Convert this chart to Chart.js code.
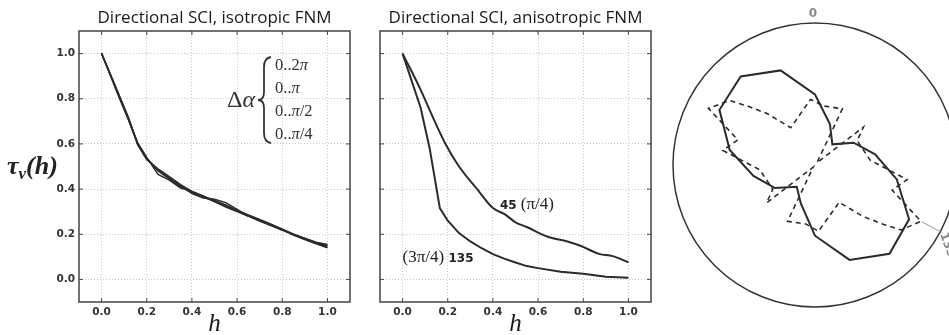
<!DOCTYPE html>
<html>
<head>
<meta charset="utf-8">
<script src="https://cdn.jsdelivr.net/npm/chart.js@4.4.1/dist/chart.umd.min.js"></script>
<style>
  html, body { margin: 0; padding: 0; background: #fff; overflow: hidden; width: 949px; height: 335px; }
  canvas { position: absolute; top: 0; }
  #iso { left: 0; }
  #aniso { left: 360px; }
  #rose { left: 655px; }
</style>
</head>
<body>
<canvas id="iso" width="360" height="335"></canvas>
<canvas id="aniso" width="300" height="335"></canvas>
<canvas id="rose" width="310" height="335"></canvas>
<script>
// tick labels
var hTicks = [0, 0.2, 0.4, 0.6, 0.8, 1.0];
var tauTicks = [0, 0.2, 0.4, 0.6, 0.8, 1.0];

// left panel: four angular tolerances, isotropic field
var hIso = [0, 0.04, 0.08, 0.12, 0.16, 0.2, 0.25, 0.3, 0.35, 0.4, 0.45, 0.5, 0.55, 0.6, 0.65, 0.7, 0.75, 0.8, 0.85, 0.9, 0.95, 1.0];
var iso2pi = [1.0, 0.905, 0.81, 0.71, 0.60, 0.535, 0.48, 0.445, 0.41, 0.385, 0.365, 0.345, 0.325, 0.305, 0.283, 0.262, 0.243, 0.222, 0.2, 0.18, 0.163, 0.145];
var isoPi = [1.0, 0.905, 0.805, 0.705, 0.605, 0.54, 0.465, 0.44, 0.405, 0.39, 0.368, 0.35, 0.33, 0.305, 0.285, 0.265, 0.245, 0.222, 0.198, 0.178, 0.16, 0.15];
var isoPi2 = [1.0, 0.905, 0.81, 0.715, 0.6, 0.535, 0.485, 0.45, 0.415, 0.38, 0.36, 0.355, 0.34, 0.31, 0.28, 0.26, 0.24, 0.22, 0.2, 0.182, 0.165, 0.155];
var isoPi4 = [1.0, 0.9, 0.8, 0.705, 0.595, 0.53, 0.49, 0.455, 0.42, 0.39, 0.37, 0.345, 0.32, 0.3, 0.28, 0.258, 0.238, 0.218, 0.196, 0.177, 0.158, 0.14];

// middle panel: two directions, anisotropic field
var h45 = [0, 0.077, 0.12, 0.155, 0.19, 0.25, 0.33, 0.4, 0.45, 0.5, 0.55, 0.64, 0.73, 0.79, 0.87, 0.93, 1.0];
var aniso45 = [1.0, 0.846, 0.75, 0.672, 0.6, 0.5, 0.4, 0.316, 0.29, 0.253, 0.232, 0.19, 0.168, 0.148, 0.113, 0.103, 0.076];
var h135 = [0, 0.08, 0.12, 0.165, 0.2, 0.25, 0.3, 0.35, 0.4, 0.45, 0.5, 0.55, 0.6, 0.7, 0.8, 0.9, 1.0];
var aniso135 = [1.0, 0.76, 0.58, 0.316, 0.26, 0.205, 0.168, 0.138, 0.112, 0.092, 0.075, 0.059, 0.05, 0.034, 0.025, 0.012, 0.007];

// right panel: rose (degrees clockwise from top, radius as fraction of the outer circle)
var solidDeg = [0, 20, 40, 60, 80, 100, 120, 140, 160, 180, 200, 220, 240, 260, 280, 300, 320, 340];
var solidR = [0.497, 0.307, 0.19, 0.314, 0.43, 0.585, 0.765, 0.816, 0.711, 0.498, 0.29, 0.2, 0.325, 0.44, 0.61, 0.777, 0.814, 0.709];
var dashDeg = [9, 26, 40, 52, 60, 85, 99, 108, 118, 127, 131, 137, 147, 177, 189, 206, 220, 232, 240, 265, 279, 288, 298, 307, 311, 317, 327, 356];
var dashR = [0.42, 0.441, 0.02, 0.433, 0.343, 0.39, 0.657, 0.571, 0.845, 0.76, 0.635, 0.495, 0.313, 0.467, 0.42, 0.441, 0.02, 0.433, 0.343, 0.39, 0.657, 0.571, 0.85, 0.755, 0.635, 0.495, 0.313, 0.463];
var roseMarkDeg = 118;

var INK = '#2b2b2b';
var SERIF = '"Liberation Serif", serif';

function pts(xs, ys) {
  return xs.map(function (x, i) { return { x: x, y: ys[i] }; });
}
function lineSet(xs, ys, w, smooth) {
  var s = { data: pts(xs, ys), borderColor: INK, borderWidth: w, pointRadius: 0, fill: false, tension: 0 };
  if (smooth) s.cubicInterpolationMode = 'monotone';
  return s;
}
function runs(ctx, parts, x, y) {
  parts.forEach(function (p) {
    ctx.font = p[1];
    ctx.fillText(p[0], x, y + (p[2] || 0));
    x += ctx.measureText(p[0]).width;
  });
  return x;
}

// box, inward ticks, title and x label for the two line panels
var framePlugin = {
  id: 'frame',
  afterDatasetsDraw: function (chart, args, opts) {
    var a = chart.chartArea, ctx = chart.ctx, sx = chart.scales.x, sy = chart.scales.y;
    var cx = (a.left + a.right) / 2;
    ctx.save();
    ctx.strokeStyle = '#444';
    ctx.lineWidth = 1;
    ctx.beginPath();
    hTicks.forEach(function (v) {
      var x = sx.getPixelForValue(v);
      ctx.moveTo(x, a.bottom); ctx.lineTo(x, a.bottom - 4);
      ctx.moveTo(x, a.top); ctx.lineTo(x, a.top + 4);
    });
    tauTicks.forEach(function (v) {
      var y = sy.getPixelForValue(v);
      ctx.moveTo(a.left, y); ctx.lineTo(a.left + 4, y);
      ctx.moveTo(a.right, y); ctx.lineTo(a.right - 4, y);
    });
    ctx.stroke();
    ctx.lineWidth = 1.5;
    ctx.strokeRect(a.left, a.top, a.right - a.left, a.bottom - a.top);
    ctx.fillStyle = '#1a1a1a';
    ctx.font = '17px "Open Sans"';
    ctx.textAlign = 'center';
    ctx.textBaseline = 'middle';
    ctx.fillText(opts.title, cx, 18);
    ctx.textBaseline = 'alphabetic';
    ctx.font = 'italic 25px ' + SERIF;
    ctx.fillText('h', cx, 331);
    ctx.restore();
  }
};

var isoNotes = {
  id: 'isoNotes',
  afterDraw: function (chart) {
    var ctx = chart.ctx;
    ctx.save();
    ctx.fillStyle = '#222';
    ctx.textAlign = 'left';
    ctx.textBaseline = 'alphabetic';
    // y label
    runs(ctx, [['τ', 'bold italic 26px ' + SERIF], ['v', 'bold italic 17px ' + SERIF, 5], ['(h)', 'bold italic 26px ' + SERIF]], 7, 174);
    // tolerance legend
    ctx.fillStyle = '#333';
    runs(ctx, [['Δ', '24px ' + SERIF], ['α', 'italic 24px ' + SERIF]], 227, 107);
    ctx.strokeStyle = '#333';
    ctx.lineWidth = 1.8;
    ctx.beginPath();
    ctx.moveTo(271, 57);
    ctx.quadraticCurveTo(264, 58, 264, 67);
    ctx.lineTo(264, 92);
    ctx.quadraticCurveTo(264, 100, 258, 100);
    ctx.quadraticCurveTo(264, 100, 264, 108);
    ctx.lineTo(264, 133);
    ctx.quadraticCurveTo(264, 142, 271, 143);
    ctx.stroke();
    var f = '16.5px ' + SERIF, fi = 'italic 16.5px ' + SERIF;
    runs(ctx, [['0..2', f], ['π', fi]], 275, 70);
    runs(ctx, [['0..', f], ['π', fi]], 275, 93);
    runs(ctx, [['0..', f], ['π', fi], ['/2', f]], 275, 116);
    runs(ctx, [['0..', f], ['π', fi], ['/4', f]], 275, 139);
    ctx.restore();
  }
};

var anisoNotes = {
  id: 'anisoNotes',
  afterDraw: function (chart) {
    var ctx = chart.ctx, sx = chart.scales.x, sy = chart.scales.y;
    ctx.save();
    ctx.fillStyle = '#222';
    ctx.textBaseline = 'alphabetic';
    var bold = 'bold 12px "DejaVu Sans"', ser = '17px ' + SERIF;
    runs(ctx, [['45', bold], [' (π/4)', ser]], sx.getPixelForValue(0.431), sy.getPixelForValue(0.313));
    runs(ctx, [['(3π/4) ', ser], ['135', bold]], sx.getPixelForValue(0.0), sy.getPixelForValue(0.079));
    ctx.restore();
  }
};

function lineOptions(title, yWidth, showY, rightPad) {
  return {
    responsive: false,
    animation: false,
    layout: { padding: { left: 0, right: rightPad, top: 31, bottom: 0 } },
    plugins: { legend: { display: false }, tooltip: { enabled: false }, frame: { title: title } },
    scales: {
      x: {
        type: 'linear', min: -0.1, max: 1.1,
        afterBuildTicks: function (s) { s.ticks = hTicks.map(function (v) { return { value: v }; }); },
        afterFit: function (s) { s.height = 33; },
        ticks: { color: '#333', font: { family: 'DejaVu Sans', size: 10.5, weight: 'bold' }, padding: 4,
          callback: function (v) { return v.toFixed(1); } },
        grid: { color: '#c8c8c8', lineWidth: 1, drawTicks: false },
        border: { display: false, dash: [1, 2] }
      },
      y: {
        min: -0.1, max: 1.1,
        afterBuildTicks: function (s) { s.ticks = tauTicks.map(function (v) { return { value: v }; }); },
        afterFit: function (s) { s.width = yWidth; },
        ticks: { display: showY, color: '#333', font: { family: 'DejaVu Sans', size: 10.5, weight: 'bold' }, padding: 4,
          callback: function (v) { return v.toFixed(1); } },
        grid: { color: '#c8c8c8', lineWidth: 1, drawTicks: false },
        border: { display: false, dash: [1, 2] }
      }
    }
  };
}

new Chart(document.getElementById('iso'), {
  type: 'line',
  data: { datasets: [
    lineSet(hIso, iso2pi, 1.5), lineSet(hIso, isoPi, 1.5), lineSet(hIso, isoPi2, 1.5), lineSet(hIso, isoPi4, 1.5)
  ] },
  options: lineOptions('Directional SCI, isotropic FNM', 79, true, 10),
  plugins: [framePlugin, isoNotes]
});

new Chart(document.getElementById('aniso'), {
  type: 'line',
  data: { datasets: [lineSet(h45, aniso45, 2, true), lineSet(h135, aniso135, 2)] },
  options: lineOptions('Directional SCI, anisotropic FNM', 20, false, 9),
  plugins: [framePlugin, anisoNotes]
});

var polarDeg = [];
for (var d = 0; d < 360; d++) polarDeg.push(String(d));
function ring(angles, radii) {
  var out = polarDeg.map(function () { return null; });
  angles.forEach(function (a, i) { out[a] = radii[i]; });
  return out;
}

var roseNotes = {
  id: 'roseNotes',
  afterDraw: function (chart) {
    var s = chart.scales.r, ctx = chart.ctx;
    ctx.save();
    ctx.fillStyle = '#888';
    ctx.font = 'bold 12px "DejaVu Sans"';
    ctx.textAlign = 'center';
    ctx.textBaseline = 'middle';
    var top = s.getPointPosition(0, s.drawingArea + 9);
    ctx.fillText('0', top.x - 2, top.y);
    var a = s.getPointPositionForValue(roseMarkDeg, 0.85), b = s.getPointPositionForValue(roseMarkDeg, 1.0);
    ctx.strokeStyle = '#999';
    ctx.lineWidth = 1;
    ctx.beginPath(); ctx.moveTo(a.x, a.y); ctx.lineTo(b.x, b.y); ctx.stroke();
    var c = s.getPointPositionForValue(roseMarkDeg, 1.02);
    ctx.translate(c.x, c.y);
    ctx.rotate(70 * Math.PI / 180);
    ctx.textAlign = 'left';
    ctx.fillText('135', 0, 0);
    ctx.restore();
  }
};

new Chart(document.getElementById('rose'), {
  type: 'radar',
  data: {
    labels: polarDeg,
    datasets: [
      { data: ring(solidDeg, solidR), borderColor: INK, borderWidth: 2, pointRadius: 0, fill: false, spanGaps: true, tension: 0 },
      { data: ring(dashDeg, dashR), borderColor: INK, borderWidth: 1.6, borderDash: [5, 4], pointRadius: 0, fill: false, spanGaps: true, tension: 0 }
    ]
  },
  options: {
    responsive: false,
    animation: false,
    layout: { padding: { left: 18, top: 23, right: 7, bottom: 27 } },
    plugins: { legend: { display: false }, tooltip: { enabled: false } },
    scales: {
      r: {
        min: 0, max: 1,
        ticks: { display: false, stepSize: 1 },
        grid: { circular: true, color: '#333', lineWidth: 1.5 },
        angleLines: { display: false },
        pointLabels: { display: false }
      }
    }
  },
  plugins: [roseNotes]
});
</script>
</body>
</html>
